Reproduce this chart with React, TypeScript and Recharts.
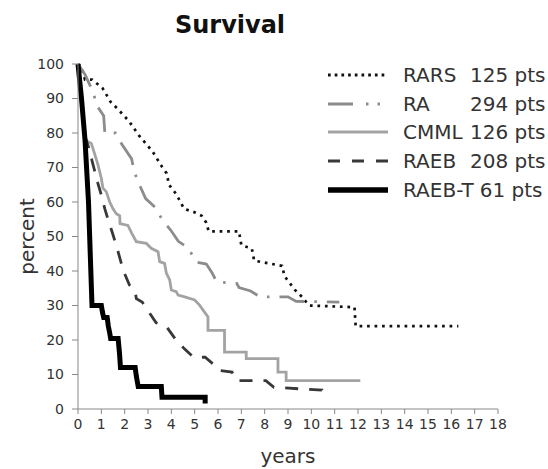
import * as React from 'react';
import { LineChart, Line, XAxis, YAxis, Legend } from 'recharts';

// Kaplan-Meier survival by MDS subtype: [year, percent]
const rars: [number, number][] = [
  [0, 100], [0.15, 99], [0.3, 95.5], [0.6, 95.5], [1.05, 93], [1.4, 89], [1.7, 87], [2.2, 83.3],
  [2.6, 79.4], [3.2, 74.6], [3.6, 70.2], [3.8, 68.3], [3.9, 65], [4.2, 62.4], [4.55, 58], [5.0, 57],
  [5.3, 56], [5.5, 54], [5.6, 51.5], [6.9, 51.5], [7.0, 47.5], [7.45, 46.5], [7.55, 43], [8.75, 41.5],
  [8.85, 38.5], [9.3, 34.5], [9.6, 32.5], [9.9, 30], [11.85, 29.5], [11.9, 24], [16.3, 24],
];
const ra: [number, number][] = [
  [0, 100], [0.3, 97], [0.5, 94], [0.65, 92], [0.8, 88], [1.1, 85], [1.15, 80], [1.6, 80], [1.9, 76.5],
  [2.3, 72.5], [2.4, 69], [2.6, 65.5], [2.9, 61], [3.3, 58.5], [3.6, 55], [4.0, 51.6], [4.3, 48.6],
  [4.7, 46.8], [5.1, 42.5], [5.5, 42], [5.75, 39.4], [5.95, 36.8], [6.8, 36.4], [6.9, 35.2], [7.4, 34.2],
  [7.8, 32.5], [9.0, 32.5], [9.35, 31.2], [11.2, 31],
];
const cmml: [number, number][] = [
  [0, 100], [0.15, 88], [0.29, 78], [0.57, 77], [0.71, 74], [0.86, 70.7], [1.0, 66.8], [1.07, 64],
  [1.21, 63], [1.36, 60], [1.5, 58], [1.64, 56.6], [1.79, 56], [1.8, 53.7], [2.14, 53.2], [2.3, 51],
  [2.5, 48.5], [2.93, 48], [3.14, 46.6], [3.43, 45.6], [3.5, 42.7], [3.71, 42.2], [3.79, 39.3],
  [3.93, 37.4], [4.0, 34.5], [4.21, 34], [4.29, 33], [4.57, 32.5], [5.0, 31.6], [5.21, 30.1],
  [5.57, 26.7], [5.57, 22.8], [6.28, 22.8], [6.28, 16.5], [7.21, 16.5], [7.21, 14.6], [8.57, 14.6],
  [8.57, 10.7], [8.92, 10.7], [8.92, 8.2], [12.1, 8.2],
];
const raeb: [number, number][] = [
  [0, 100], [0.15, 90], [0.3, 79], [0.45, 76], [0.6, 72], [0.85, 65.5], [1.0, 62], [1.15, 58],
  [1.3, 54.7], [1.5, 50.5], [1.7, 46], [1.95, 40], [2.2, 36], [2.45, 34], [2.5, 32], [2.75, 31],
  [3.05, 28], [3.35, 25], [3.8, 23.8], [4.2, 20], [4.55, 17.5], [4.95, 15], [5.45, 15], [5.8, 13],
  [6.05, 11.2], [6.6, 10.7], [6.8, 8.2], [8.05, 8.2], [8.4, 6.3], [9.6, 5.8], [10.45, 5.5], [10.45, 4],
];
const raebT: [number, number][] = [
  [0, 100], [0.15, 90], [0.3, 78], [0.45, 60], [0.55, 40], [0.6, 30], [1.0, 30], [1.05, 28],
  [1.1, 26.5], [1.25, 26.5], [1.3, 24], [1.36, 22], [1.4, 20.4], [1.72, 20.4], [1.78, 16], [1.82, 12],
  [2.45, 12], [2.5, 9.5], [2.58, 6.5], [3.57, 6.5], [3.6, 3.4], [5.45, 3.4], [5.45, 1.6],
];

const names = ['RARS', 'RA', 'CMML', 'RAEB', 'RAEB-T'];
const counts = ['125 pts', '294 pts', '126 pts', '208 pts', '61 pts'];
const xTicks = [0, 1, 2, 3, 4, 5, 6, 7, 8, 9, 10, 11, 12, 13, 14, 15, 16, 17, 18];
const yTicks = [0, 10, 20, 30, 40, 50, 60, 70, 80, 90, 100];

const styles = [
  { stroke: '#111', width: 2.7, dash: '2.7 4.8', legendDash: '2.7 4' },
  { stroke: '#8c8c8c', width: 2.8, dash: '26 10 2.5 10', legendDash: '25 13 2.5 9 2.5 20' },
  { stroke: '#a3a3a3', width: 2.8, dash: undefined, legendDash: undefined },
  { stroke: '#383838', width: 2.8, dash: '13 11', legendDash: '12 12' },
  { stroke: '#000', width: 5, dash: undefined, legendDash: undefined },
];

const toRows = (pts: [number, number][]) => pts.map(([year, pct]) => ({ year, pct }));
const series = [rars, ra, cmml, raeb, raebT].map(toRows);

const FONT = '"DejaVu Sans", sans-serif';

const renderLegend = () => (
  <div style={{ fontFamily: FONT, fontSize: 20, color: '#333', whiteSpace: 'nowrap' }}>
    {names.map((n, i) => (
      <div key={n} style={{ display: 'flex', alignItems: 'center', height: 28.6 }}>
        <svg width={60} height={12} style={{ marginRight: 15 }}>
          <line x1={0} x2={60} y1={6} y2={6} stroke={styles[i].stroke}
            strokeWidth={i === 4 ? 5.5 : 3} strokeDasharray={styles[i].legendDash} />
        </svg>
        <span style={{ display: 'inline-block', minWidth: 67, paddingRight: i === 4 ? 6 : 0 }}>{n}</span>
        <span>{counts[i]}</span>
      </div>
    ))}
  </div>
);

export default function App() {
  return (
    <div style={{ position: 'absolute', left: 0, top: 0, width: 548, height: 469, background: '#fff' }}>
      <div style={{ position: 'absolute', top: 11, left: 0, width: 460, textAlign: 'center', fontFamily: FONT, fontWeight: 'bold', fontSize: 24, color: '#111' }}>
        Survival
      </div>
      <LineChart width={548} height={469} margin={{ top: 64, right: 50, bottom: 0, left: 0 }}>
        <XAxis dataKey="year" type="number" domain={[0, 18]} ticks={xTicks} interval={0}
          height={60} stroke="#888" tickSize={5} tickMargin={5}
          tick={{ fill: '#333', fontSize: 14, fontFamily: FONT }}
          label={{ value: 'years', position: 'insideBottom', offset: 6, style: { fill: '#333', fontSize: 20, fontFamily: FONT } }} />
        <YAxis type="number" domain={[0, 100]} ticks={yTicks} interval={0} width={78}
          stroke="#888" tickSize={6} tickMargin={8}
          tick={{ fill: '#333', fontSize: 14, fontFamily: FONT }}
          label={{ value: 'percent', angle: -90, position: 'insideLeft', offset: 27, style: { fill: '#333', fontSize: 20, fontFamily: FONT, textAnchor: 'middle' } }} />
        <Legend layout="vertical" align="center" verticalAlign="middle" content={renderLegend}
          wrapperStyle={{ position: 'absolute', left: 328, top: 61, width: 220 }} />
        {series.map((d, i) => (
          <Line key={names[i]} data={d} dataKey="pct" name={names[i]} type="linear"
            stroke={styles[i].stroke} strokeWidth={styles[i].width} strokeDasharray={styles[i].dash}
            dot={false} activeDot={false} isAnimationActive={false} />
        ))}
      </LineChart>
    </div>
  );
}
